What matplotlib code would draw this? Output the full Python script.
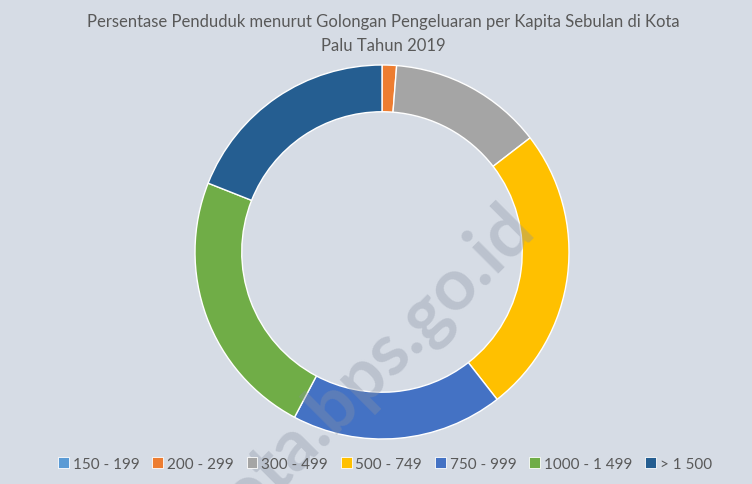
import matplotlib
matplotlib.use("Agg")
import matplotlib.pyplot as plt
import matplotlib.patches as mpatches

plt.rcParams['font.family'] = ['Lato', 'DejaVu Sans']

CATEGORIES = ['150 - 199', '200 - 299', '300 - 499', '500 - 749',
              '750 - 999', '1000 - 1 499', '> 1 500']
PERCENT = [0.0, 1.25, 13.3, 24.9, 18.3, 23.25, 19.0]
COLORS = ['#5b9bd5', '#ed7d31', '#a5a5a5', '#ffc000',
          '#4472c4', '#70ad47', '#255e91']

TITLE = 'Persentase Penduduk menurut Golongan Pengeluaran per Kapita Sebulan di Kota\nPalu Tahun 2019'
BG = '#d6dce5'

fig = plt.figure(figsize=(7.52, 4.85), dpi=100, facecolor=BG)
ax = fig.add_axes([(382 - 187) / 752, 1 - 440 / 485, 374 / 752, 374 / 485])
ax.set_facecolor(BG)

ax.pie(PERCENT, colors=COLORS, startangle=90, counterclock=False,
       radius=1.0, wedgeprops=dict(width=0.25, edgecolor='white', linewidth=1.0))
ax.set_aspect('equal')
ax.set_xlim(-1, 1)
ax.set_ylim(-1, 1)
ax.axis('off')

fig.text(383 / 752, 1 - 34 / 485, TITLE, ha='center', va='center', fontsize=12.0,
         color='#595959', linespacing=1.65)

handles = [mpatches.Patch(facecolor=c, edgecolor='white', linewidth=0.6, label=l)
           for c, l in zip(COLORS, CATEGORIES)]
fig.legend(handles=handles, loc='center', bbox_to_anchor=(385 / 752, 1 - 465 / 485),
           ncol=7, frameon=False, fontsize=11, labelcolor='#595959',
           handlelength=0.7, handleheight=0.7, handletextpad=0.25,
           columnspacing=0.85)

# watermark (cut off by the bottom edge, as in the source)
fig.text(498 / 752, 1 - 192 / 485, 'palukota.bps.go.id', ha='right', va='top',
         rotation=45, rotation_mode='anchor', fontsize=52, fontweight='bold',
         color='#8a93a3', alpha=0.35)

fig.savefig('out.png', dpi=100, facecolor=BG)
